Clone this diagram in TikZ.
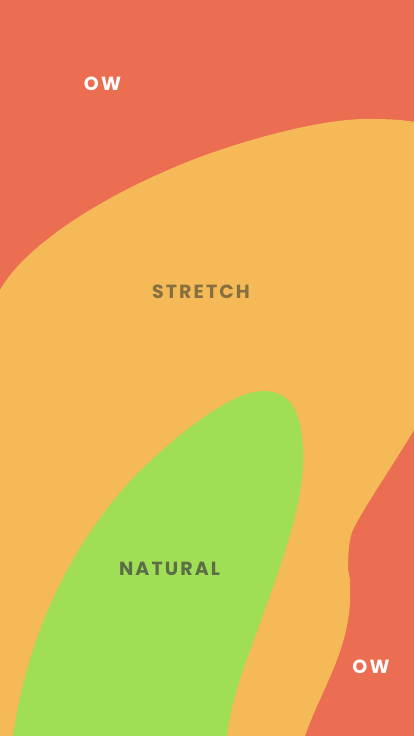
\documentclass[tikz,border=0pt]{standalone}
\usepackage{fontspec}
\newfontfamily\zonefont[LetterSpace=11]{Poppins}
\definecolor{owred}{HTML}{EB6E52}
\definecolor{stretchor}{HTML}{F6B957}
\definecolor{natgreen}{HTML}{A0DE56}
\definecolor{stretchtxt}{HTML}{86703F}
\definecolor{nattxt}{HTML}{5C6E45}
\begin{document}
\begin{tikzpicture}[x=1pt,y=-1pt,
  zonelabel/.style={font=\zonefont\bfseries\fontsize{19}{19}\selectfont, inner sep=0pt, anchor=base}]
\useasboundingbox (0,0) rectangle (414,736);
\fill[owred] (0,0) rectangle (414,736);
\fill[stretchor] (0,290) .. controls (22,250) and (95,197) .. (200,157)
  .. controls (260,135) and (330,118) .. (370,119)
  .. controls (390,119) and (405,120) .. (414,122)
  -- (414,430) .. controls (390,470) and (362,510) .. (352,532)
  .. controls (348,545) and (348,560) .. (348,570)
  .. controls (350,578) .. (350,590)
  .. controls (351,615) and (345,640) .. (335,665)
  .. controls (325,690) and (312,715) .. (305,736)
  -- (0,736) -- cycle;
\fill[natgreen] (227,736) .. controls (232,690) and (255,640) .. (270,595)
  .. controls (290,540) and (305,490) .. (303,450)
  .. controls (301,410) and (290,391) .. (263,391)
  .. controls (230,391) and (170,440) .. (133,478)
  .. controls (80,535) and (30,620) .. (13,736) -- cycle;
\node[zonelabel, text=white] (ow1) at (102.5,90) {OW};
\node[zonelabel, text=stretchtxt] (stretch) at (201,298) {STRETCH};
\node[zonelabel, text=nattxt] (natural) at (169.5,575) {NATURAL};
\node[zonelabel, text=white] (ow2) at (371,673) {OW};
\end{tikzpicture}
\end{document}
